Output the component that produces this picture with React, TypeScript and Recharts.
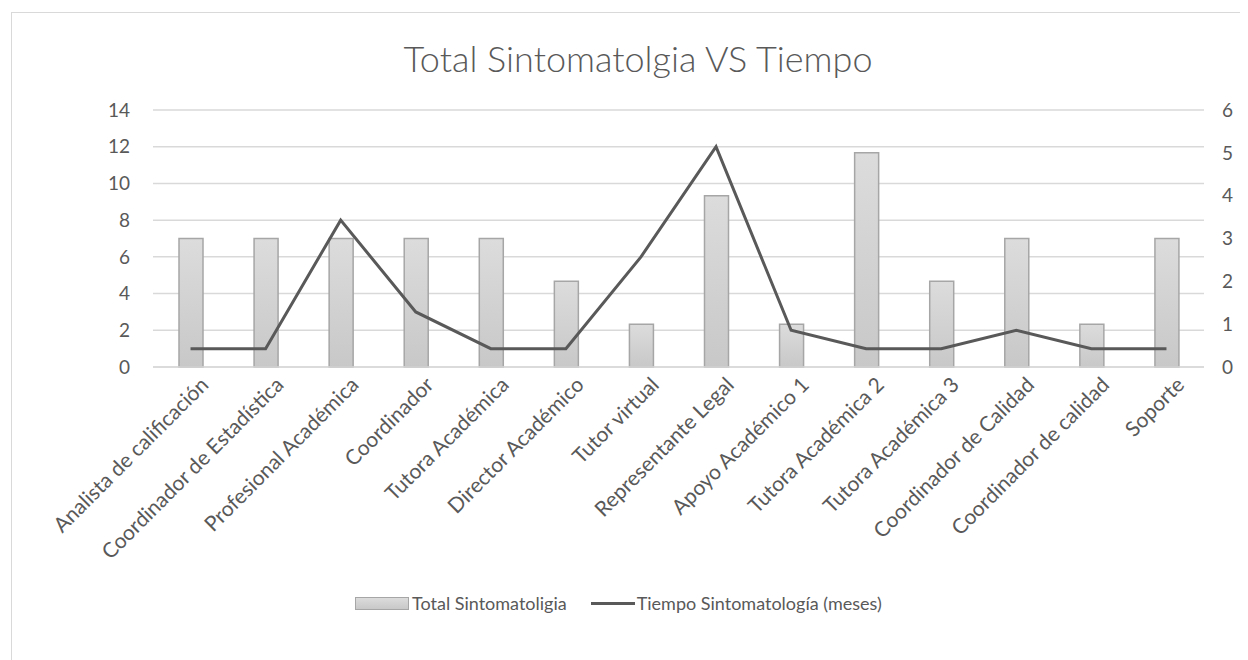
import React from 'react';
import { ComposedChart, Bar, Line, XAxis, YAxis, CartesianGrid } from 'recharts';

const categories = [
  'Analista de calificación',
  'Coordinador de Estadística',
  'Profesional Académica',
  'Coordinador',
  'Tutora Académica',
  'Director Académico',
  'Tutor virtual',
  'Representante Legal',
  'Apoyo Académico 1',
  'Tutora Académica 2',
  'Tutora Académica 3',
  'Coordinador de Calidad',
  'Coordinador de calidad',
  'Soporte',
];

// bars read against the right axis (0-6)
const totalSintomatologia = [3, 3, 3, 3, 3, 2, 1, 4, 1, 5, 2, 3, 1, 3];
// line read against the left axis (0-14)
const tiempoMeses = [1, 1, 8, 3, 1, 1, 6, 12, 2, 1, 1, 2, 1, 1];

const leftTicks = [0, 2, 4, 6, 8, 10, 12, 14];
const rightTicks = [0, 1, 2, 3, 4, 5, 6];

const barName = 'Total Sintomatoligia';
const lineName = 'Tiempo Sintomatología (meses)';
const title = 'Total Sintomatolgia VS Tiempo';

const data = categories.map((name, i) => ({
  name,
  total: totalSintomatologia[i],
  tiempo: tiempoMeses[i],
}));

const FONT = 'Lato, "Open Sans", sans-serif';
const TEXT = '#595959';

const CategoryTick = (props: any) => {
  const { x, y, payload } = props;
  return (
    <g transform={`translate(${x + 10},${y + 2})`}>
      <text
        x={0}
        y={0}
        dy={13}
        textAnchor="end"
        transform="rotate(-45)"
        fill={TEXT}
        fontSize={21}
        fontFamily={FONT}
      >
        {payload.value}
      </text>
    </g>
  );
};

const App: React.FC = () => {
  return (
    <div style={{ position: 'relative', width: 1240, height: 652, overflow: 'hidden', background: '#fff' }}>
      <div
        style={{
          position: 'absolute',
          left: 3,
          top: 4,
          width: 1300,
          height: 700,
          border: '1.5px solid #d9d9d9',
        }}
      />
      <div
        style={{
          position: 'absolute',
          top: 28,
          left: 0,
          width: 1260,
          textAlign: 'center',
          fontFamily: FONT,
          fontSize: 36,
          fontWeight: 300,
          color: '#595959',
        }}
      >
        {title}
      </div>
      <div style={{ position: 'absolute', left: 0, top: 0 }}>
        <ComposedChart
          width={1240}
          height={652}
          data={data}
          margin={{ top: 102, right: 0, left: 0, bottom: 0 }}
        >
          <defs>
            <linearGradient id="barGrad" x1="0" y1="0" x2="0" y2="1">
              <stop offset="0%" stopColor="#dcdcdc" />
              <stop offset="100%" stopColor="#c8c8c8" />
            </linearGradient>
          </defs>
          <CartesianGrid yAxisId="left" vertical={false} stroke="#d9d9d9" strokeWidth={1.5} />
          <XAxis
            dataKey="name"
            height={293}
            interval={0}
            axisLine={{ stroke: '#d9d9d9', strokeWidth: 1.5 }}
            tickLine={false}
            tick={<CategoryTick />}
          />
          <YAxis
            yAxisId="left"
            orientation="left"
            width={145}
            domain={[0, 14]}
            ticks={leftTicks}
            axisLine={false}
            tickLine={false}
            tickSize={0}
            tickMargin={23}
            tick={{ fill: TEXT, fontSize: 19, fontFamily: FONT }}
          />
          <YAxis
            yAxisId="right"
            orientation="right"
            width={44}
            domain={[0, 6]}
            ticks={rightTicks}
            axisLine={false}
            tickLine={false}
            tickSize={0}
            tickMargin={18}
            tick={{ fill: TEXT, fontSize: 19, fontFamily: FONT }}
          />
          <Bar
            yAxisId="right"
            dataKey="total"
            name={barName}
            barSize={24}
            fill="url(#barGrad)"
            stroke="#a6a6a6"
            strokeWidth={1.5}
            isAnimationActive={false}
          />
          <Line
            yAxisId="left"
            dataKey="tiempo"
            name={lineName}
            type="linear"
            stroke="#595959"
            strokeWidth={3}
            dot={false}
            activeDot={false}
            isAnimationActive={false}
          />
        </ComposedChart>
      </div>
      <div
        style={{
          position: 'absolute',
          top: 584,
          left: 347,
          display: 'flex',
          alignItems: 'center',
          fontFamily: FONT,
          fontSize: 18,
          color: TEXT,
        }}
      >
        <span style={{ display: 'inline-flex', alignItems: 'center', marginRight: 24 }}>
          <span
            style={{
              display: 'inline-block',
              width: 52,
              height: 11,
              background: 'linear-gradient(#dcdcdc, #c8c8c8)',
              border: '1px solid #a6a6a6',
              marginRight: 3,
            }}
          />
          {barName}
        </span>
        <span style={{ display: 'inline-flex', alignItems: 'center' }}>
          <span
            style={{ display: 'inline-block', width: 44, height: 3, background: '#595959', marginRight: 2 }}
          />
          {lineName}
        </span>
      </div>
    </div>
  );
};

export default App;
